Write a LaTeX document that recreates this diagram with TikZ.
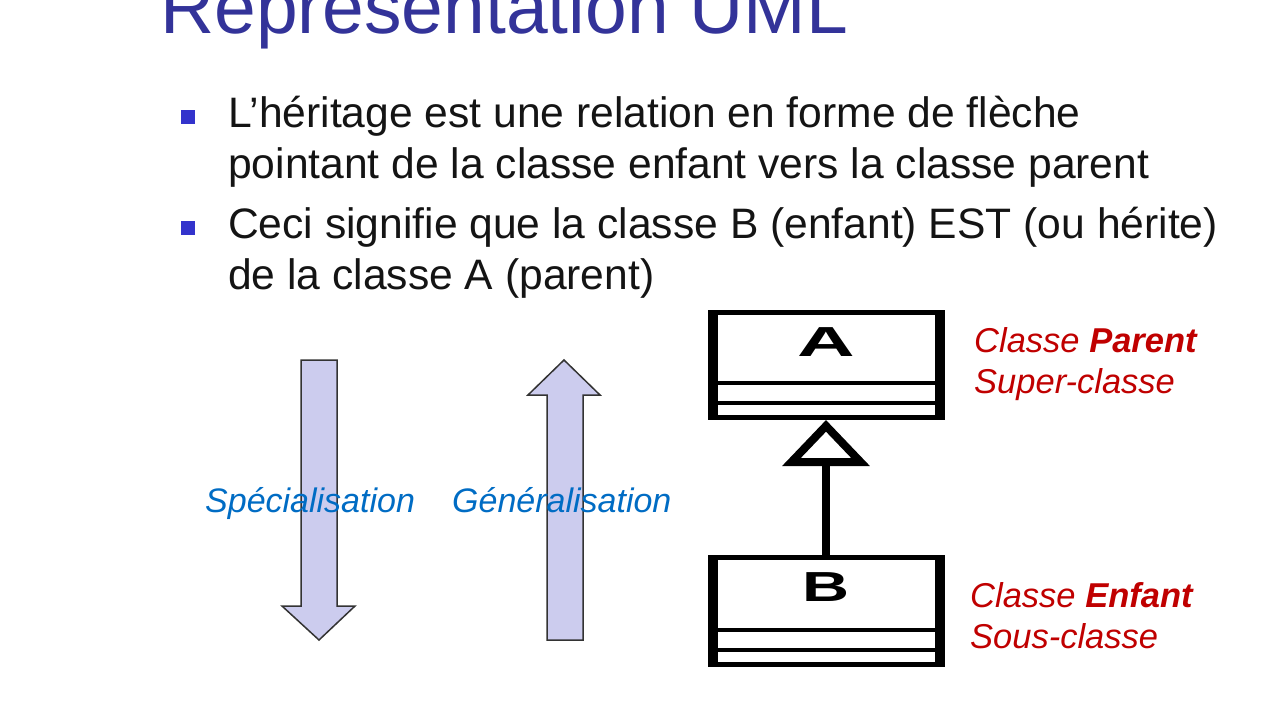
\documentclass[tikz,border=0pt]{standalone}
\usepackage{graphicx}
\usepackage{fontspec}
\setmainfont{Liberation Sans}
\usetikzlibrary{positioning,arrows.meta}
\definecolor{titleblue}{RGB}{51,51,153}
\definecolor{bulletblue}{RGB}{51,51,204}
\definecolor{textblack}{RGB}{20,20,20}
\definecolor{labelblue}{RGB}{0,108,196}
\definecolor{arrowfill}{RGB}{204,204,238}
\definecolor{rolered}{RGB}{192,0,0}

\begin{document}
\begin{tikzpicture}[x=1pt,y=-1pt,
    texte/.style={anchor=base west,inner sep=0pt,text=textblack,font=\fontsize{42.6}{50}\selectfont},
    puce/.style={fill=bulletblue,minimum size=13.5pt,inner sep=0pt},
    sens/.style={anchor=base west,inner sep=0pt,text=labelblue,font=\fontsize{34}{40}\selectfont\itshape},
    role/.style={anchor=base west,inner sep=0pt,text=rolered,font=\fontsize{34.5}{40}\selectfont\itshape},
    bloc/.style={fill=arrowfill,draw=black!80,line width=1.5pt,line join=miter},
    classe/.style={draw,line width=5pt,minimum width=227pt,inner sep=0pt},
    nom/.style={inner sep=0pt,font=\fontsize{42}{42}\selectfont\bfseries},
    herite/.style={line width=8pt,-{Triangle[fill=white,length=46pt,width=86pt]}}]
  \useasboundingbox (0,0) rectangle (1280,720);
  \fill[white] (0,0) rectangle (1280,720);
  \node[anchor=base west,inner sep=0pt,text=titleblue,font=\fontsize{75}{75}\selectfont] (titre) at (160,33) {Représentation UML};

  \node[puce] (puce1) at (188,117) {};
  \node[texte] (herit1) at (228,127) {L’héritage est une relation en forme de flèche};
  \node[texte] (herit2) at ([yshift=-51pt]herit1.base west) {pointant de la classe enfant vers la classe parent};
  \node[puce] (puce2) at (188,228) {};
  \node[texte] (ceci1) at (228,238) {Ceci signifie que la classe B (enfant) EST (ou hérite)};
  \node[texte] (ceci2) at ([yshift=-51pt]ceci1.base west) {de la classe A (parent)};

  % fleches pleines
  \draw[bloc] (301,360) -- (337,360) -- (337,606) -- (355,606) -- (319,640) -- (282,606) -- (301,606) -- cycle;
  \draw[bloc] (547,640) -- (583,640) -- (583,395) -- (600,395) -- (564,360) -- (528,395) -- (547,395) -- cycle;
  \node[sens] (spec) at (205,512) {Spécialisation};
  \node[sens] (gene) at (452,512) {Généralisation};

  % classes UML
  \node[classe,minimum height=105pt] (A) at (826,365) {};
  \node[classe,minimum height=107pt] (B) at (826,611) {};
  \foreach \c in {A,B} {
    \draw[line width=10pt] ([xshift=2.5pt]\c.north west) -- ([xshift=2.5pt]\c.south west);
    \draw[line width=10pt] ([xshift=-2.5pt]\c.north east) -- ([xshift=-2.5pt]\c.south east);
    \foreach \h in {17,37}
      \draw[line width=4pt] ([yshift=\h pt]\c.south west) -- ([yshift=\h pt]\c.south east);
  }
  \node[nom] (nomA) at ([yshift=-32pt]A.north) {\scalebox{1.9}[1]{A}};
  \node[nom] (nomB) at ([yshift=-32pt]B.north) {\scalebox{1.55}[1]{B}};
  \draw[herite] (B.north) -- (A.south);

  \node[role] (parent) at (974,352) {Classe \textbf{Parent}};
  \node[role] (super) at ([yshift=-41pt]parent.base west) {Super-classe};
  \node[role] (enfant) at (970,607) {Classe \textbf{Enfant}};
  \node[role] (sous) at ([yshift=-41pt]enfant.base west) {Sous-classe};
\end{tikzpicture}
\end{document}
